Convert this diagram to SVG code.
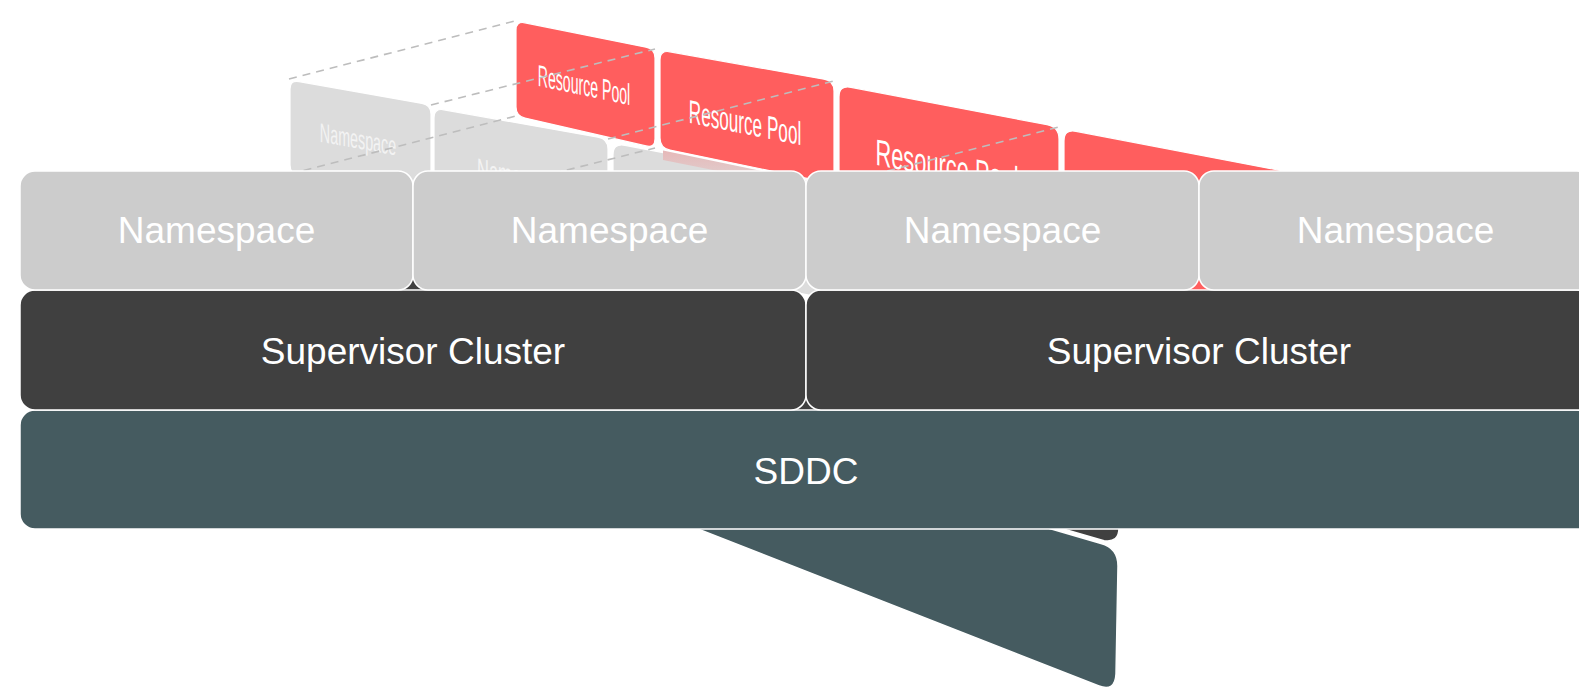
<svg xmlns="http://www.w3.org/2000/svg" width="1579" height="688" viewBox="0 0 1579 688">
<style>
.t{font-family:"Liberation Sans",Arial,sans-serif;fill:#ffffff;text-anchor:middle}
.big{font-size:37px}
.ns{fill:#cccccc;stroke:#ffffff;stroke-width:1.5}
.sc{fill:#404040;stroke:#ffffff;stroke-width:1.5}
.dd{fill:#455b60;stroke:#ffffff;stroke-width:1.5}
.rp{fill:#ff5e5e;stroke:#ffffff;stroke-width:1.2}
.nsb{fill:#dcdcdc;stroke:#ffffff;stroke-width:1.2}
.faint{fill:#f3f3f3}
.dash{fill:none;stroke:#bdbdbd;stroke-width:1.6;stroke-dasharray:8 6}
</style>
<defs>
<linearGradient id="shade" x1="0" y1="0" x2="0" y2="1">
<stop offset="0" stop-color="#e6b8b8"/>
<stop offset="1" stop-color="#dcdcdc"/>
</linearGradient>
</defs>
<rect width="1579" height="688" fill="#ffffff"/>
<g id="back-scene">
  <g id="rp4"><path class="rp" d="M1064,141 Q1064,129 1076,131.3 L1318,177.7 Q1330,180 1330,192 L1330,318 Q1330,330 1318,326.8 L1076,263.2 Q1064,260 1064,248 Z"/></g>
  <g id="rp3"><path class="rp" d="M839,97 Q839,85 851,87.3 L1047,124.7 Q1059,127 1059,139 L1059,224 Q1059,236 1047,233.6 L851,194.4 Q839,192 839,180 Z"/>
    <text class="t" font-size="37" transform="matrix(0.59,0.118,0,1,947,179)">Resource Pool</text></g>
  <g id="sc-back"><path class="sc" d="M290,215 L1119,370 L1119,528 Q1119,543 1104,540.7 L290,305 Z"/></g>
  <g id="sddc-back"><path class="dd" d="M560,385 L1101,543.5 Q1118,548 1118,566 L1116,674 Q1115,692 1099,686 L560,475 Z"/></g>
  <g id="ns-back3"><path class="nsb" d="M613,155 Q613,143 625,145.3 L821,182.7 Q833,185 833,197 L833,288 Q833,300 821,297.6 L625,257.4 Q613,255 613,243 Z"/></g>
  <g id="rp2"><path class="rp" d="M660,60 Q660,50 670,51.8 L824,79.2 Q834,81 834,91 L834,174 Q834,184 824,181.9 L670,150.1 Q660,148 660,138 Z"/>
    <text class="t" font-size="33" transform="matrix(0.52,0.104,0,1,745,134)">Resource Pool</text></g>
  <path d="M663,150.5 L832,185.5 L832,194 L663,160 Z" fill="url(#shade)"/>
  <g id="rp1"><path class="rp" d="M516,30 Q516,21 525,22.8 L646,47.2 Q655,49 655,58 L655,139 Q655,148 646,145.9 L525,118.1 Q516,116 516,107 Z"/>
    <text class="t" font-size="30" transform="matrix(0.47,0.099,0,1,584,95.5)">Resource Pool</text></g>
  <g id="ns-back2"><path class="nsb" d="M434,118 Q434,108 444,109.8 L598,137.2 Q608,139 608,149 L608,232 Q608,242 598,239.9 L444,208.1 Q434,206 434,196 Z"/>
    <text class="t faint" font-size="30" transform="matrix(0.55,0.099,0,1,521,187)">Namespace</text></g>
  <g id="ns-back1"><path class="nsb" d="M290,89 Q290,80 299,81.6 L422,103.4 Q431,105 431,114 L431,195 Q431,204 422,202.1 L299,175.9 Q290,174 290,165 Z"/>
    <text class="t faint" font-size="27" transform="matrix(0.53,0.095,0,1,358,148.5)">Namespace</text></g>
</g>
<g id="connectors">
  <line class="dash" x1="289" y1="79" x2="515" y2="21"/>
  <line class="dash" x1="431" y1="105" x2="655" y2="49"/>
  <line class="dash" x1="290" y1="174" x2="516" y2="116"/>
  <line class="dash" x1="608" y1="139" x2="834" y2="81"/>
  <line class="dash" x1="431" y1="204" x2="655" y2="148"/>
  <line class="dash" x1="833" y1="185" x2="1059" y2="127"/>
</g>
<g id="sddc"><rect class="dd" x="20" y="410" width="1572" height="119" rx="15"/>
  <text class="t big" x="806" y="484">SDDC</text></g>
<g id="supervisor-1"><rect class="sc" x="20" y="290" width="786" height="120" rx="15"/>
  <text class="t big" x="413" y="363.5">Supervisor Cluster</text></g>
<g id="supervisor-2"><rect class="sc" x="806" y="290" width="786" height="120" rx="15"/>
  <text class="t big" x="1199" y="363.5">Supervisor Cluster</text></g>
<g id="namespace-1"><rect class="ns" x="20" y="171" width="393" height="119" rx="15"/>
  <text class="t big" x="216.5" y="243">Namespace</text></g>
<g id="namespace-2"><rect class="ns" x="413" y="171" width="393" height="119" rx="15"/>
  <text class="t big" x="609.5" y="243">Namespace</text></g>
<g id="namespace-3"><rect class="ns" x="806" y="171" width="393" height="119" rx="15"/>
  <text class="t big" x="1002.5" y="243">Namespace</text></g>
<g id="namespace-4"><rect class="ns" x="1199" y="171" width="393" height="119" rx="15"/>
  <text class="t big" x="1395.5" y="243">Namespace</text></g>
</svg>
